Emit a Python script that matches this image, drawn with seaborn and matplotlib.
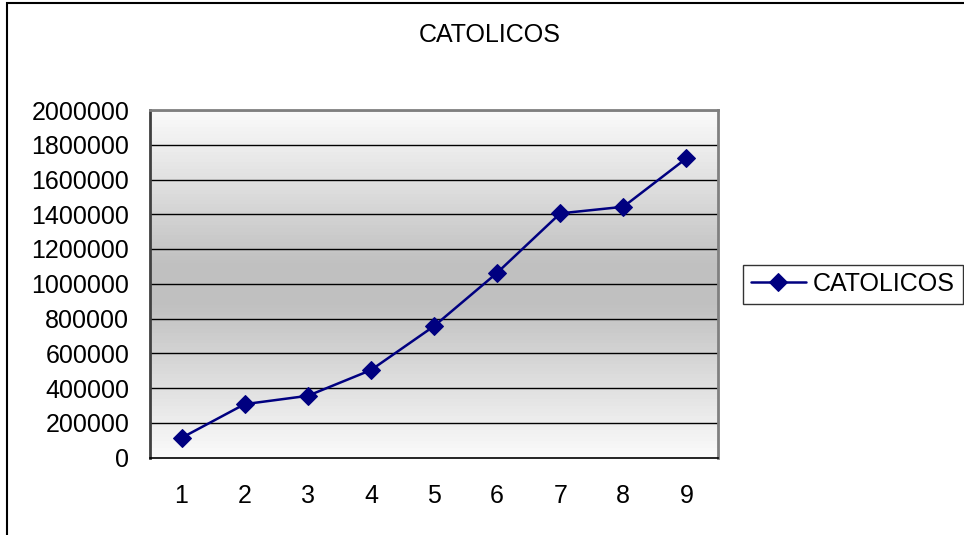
import numpy as np
import pandas as pd
import matplotlib
matplotlib.use("Agg")
import matplotlib.pyplot as plt
import seaborn as sns
from matplotlib.patches import Rectangle

# ---------------------------------------------------------------------------
# Data
# ---------------------------------------------------------------------------
categories = ["1", "2", "3", "4", "5", "6", "7", "8", "9"]
catolicos = [113000, 307000, 355000, 503000, 756000, 1063000, 1405000, 1443000, 1722000]
series_name = "CATOLICOS"
y_ticks = list(range(0, 2000001, 200000))

df = pd.DataFrame({"pos": np.arange(len(categories)), "value": catolicos})

# ---------------------------------------------------------------------------
# Figure
# ---------------------------------------------------------------------------
sns.set_style("white")
plt.rcParams["font.family"] = ["Liberation Sans", "DejaVu Sans"]
plt.rcParams["text.color"] = "black"
plt.rcParams["xtick.color"] = "black"
plt.rcParams["ytick.color"] = "black"

fig = plt.figure(figsize=(9.64, 5.35), dpi=100)
ax = fig.add_axes([150 / 964, 1 - 457.5 / 535, 568 / 964, 347.5 / 535])

# grey gradient background of the plot area (white -> grey -> white)
grad = np.concatenate([np.linspace(0.98, 0.75, 45), np.full(10, 0.75),
                       np.linspace(0.75, 0.98, 45)])
ax.imshow(grad.reshape(-1, 1), cmap="gray", vmin=0, vmax=1, aspect="auto",
          extent=[-0.5, len(categories) - 0.5, 0, 2000000], zorder=0)

sns.lineplot(data=df, x="pos", y="value", ax=ax, color="#000080", lw=1.8,
             marker="D", markersize=9, markeredgecolor="#000080",
             label=series_name, zorder=3)

ax.set_xlim(-0.5, len(categories) - 0.5)
ax.set_ylim(0, 2000000)
ax.set_yticks(y_ticks)
ax.set_yticklabels([str(v) for v in y_ticks], fontsize=18)
ax.set_xticks(np.arange(len(categories)))
ax.set_xticklabels(categories, fontsize=18)
ax.set_xticks(np.arange(len(categories) + 1) - 0.5, minor=True)
ax.tick_params(axis="x", which="major", length=0, pad=19)
ax.tick_params(axis="x", which="minor", length=5, width=1, direction="out")
ax.tick_params(axis="y", length=6, width=1, direction="out", pad=9)
ax.set_xlabel("")
ax.set_ylabel("")

for v in y_ticks[1:]:
    ax.axhline(v, color="black", lw=1, zorder=1)

ax.spines["left"].set_color("#404040")
ax.spines["left"].set_linewidth(2)
ax.spines["bottom"].set_color("black")
ax.spines["bottom"].set_linewidth(1.2)
ax.spines["top"].set_color("#808080")
ax.spines["top"].set_linewidth(2)
ax.spines["right"].set_color("#808080")
ax.spines["right"].set_linewidth(2)

fig.text(490 / 964, 1 - 35 / 535, series_name, fontsize=18, ha="center", va="center")

leg = ax.legend(loc="center left", bbox_to_anchor=(743 / 964, 1 - 284 / 535),
                bbox_transform=fig.transFigure, fontsize=18, frameon=True,
                fancybox=False, handlelength=2.2, handletextpad=0.3,
                borderpad=0.3, borderaxespad=0)
leg.get_frame().set_edgecolor("black")
leg.get_frame().set_linewidth(1)

# chart area border
fig.patches.append(Rectangle((7 / 964, -0.1), 1.1, 1 - 3 / 535 + 0.1,
                             transform=fig.transFigure, fill=False,
                             edgecolor="black", lw=1.5))

fig.savefig("out.png", dpi=100)
